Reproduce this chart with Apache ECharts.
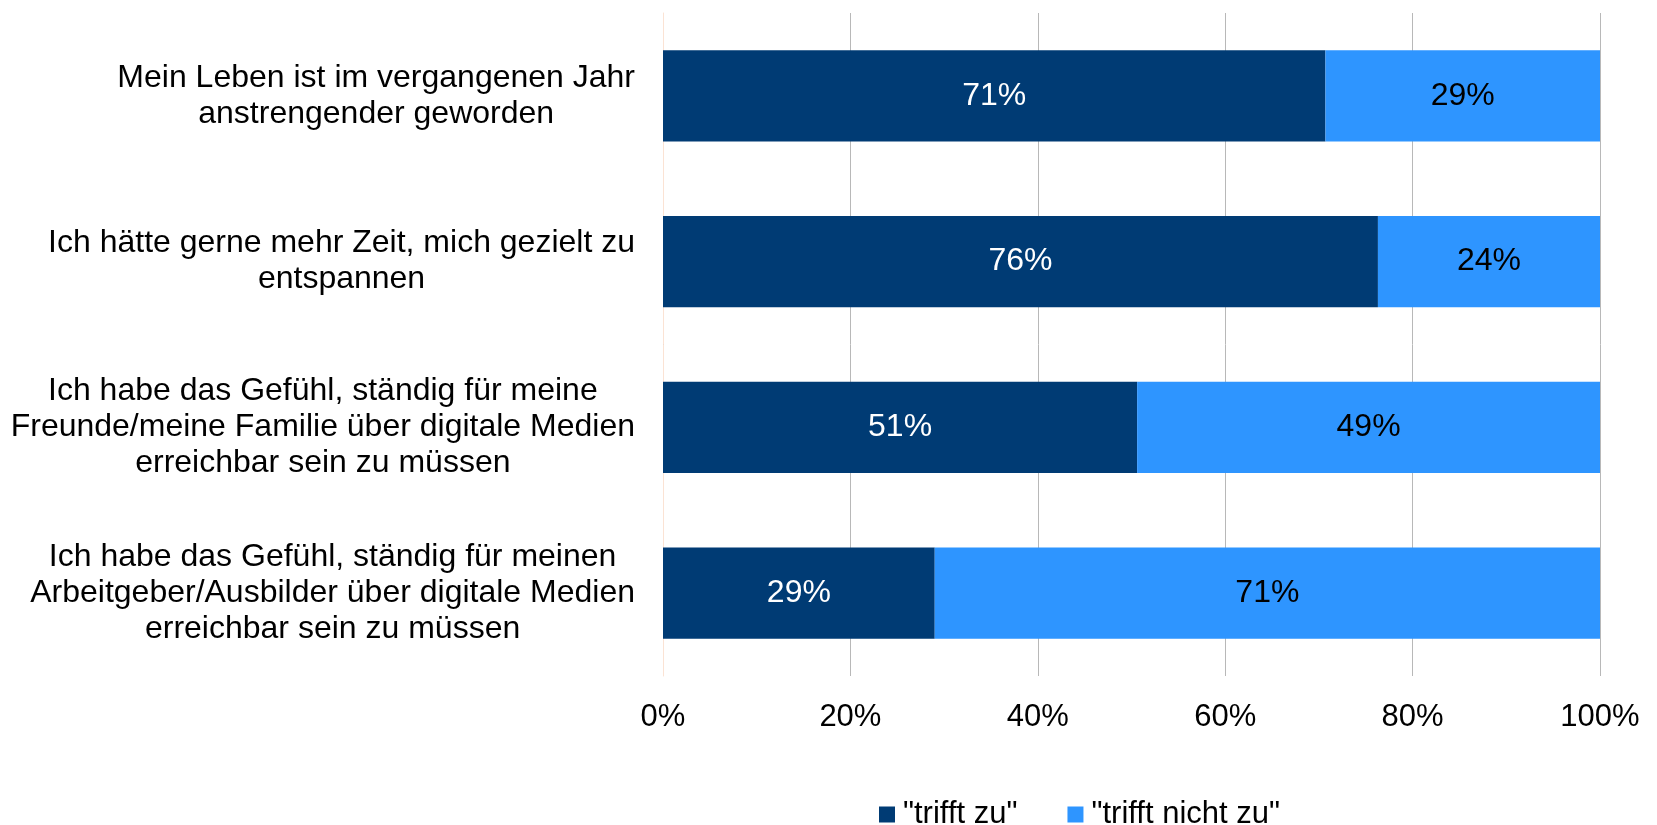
<!DOCTYPE html>
<html>
<head>
<meta charset="utf-8">
<script src="https://cdn.jsdelivr.net/npm/echarts@6/dist/echarts.min.js"></script>
<style>
  html, body { margin: 0; padding: 0; background: #fff; }
  #chart { width: 1657px; height: 825px; }
</style>
</head>
<body>
<div id="chart"></div>
<script>
var categories = [
  'Mein Leben ist im vergangenen Jahr\nanstrengender geworden',
  'Ich hätte gerne mehr Zeit, mich gezielt zu\nentspannen',
  'Ich habe das Gefühl, ständig für meine\nFreunde/meine Familie über digitale Medien\nerreichbar sein zu müssen',
  'Ich habe das Gefühl, ständig für meinen\nArbeitgeber/Ausbilder über digitale Medien\nerreichbar sein zu müssen'
];
var triftZu = [70.7, 76.3, 50.6, 29.0];
var triftNichtZu = [29.3, 23.7, 49.4, 71.0];
var seriesNames = ['"trifft zu"', '"trifft nicht zu"'];

var font = 'Liberation Sans, Arial, sans-serif';

var chart = echarts.init(document.getElementById('chart'));

var option = {
  animation: false,
  grid: { left: 663, right: 57, top: 13, bottom: 149 },
  legend: {
    left: 874,
    top: 794,
    itemWidth: 16,
    itemHeight: 16,
    itemGap: 50,
    icon: 'rect',
    textStyle: { fontFamily: font, fontSize: 31, color: '#000', padding: [0, 0, 0, 3] },
    data: seriesNames
  },
  xAxis: {
    type: 'value',
    min: 0,
    max: 100,
    interval: 20,
    axisLine: { show: false },
    axisTick: { show: false },
    splitLine: { lineStyle: { color: '#b8b8b8', width: 1 } },
    axisLabel: {
      formatter: '{value}%',
      fontFamily: font,
      fontSize: 31,
      color: '#000',
      margin: 26
    }
  },
  yAxis: {
    type: 'category',
    inverse: true,
    data: categories,
    axisLine: { show: true, lineStyle: { color: '#fbe3d4', width: 1 } },
    axisTick: { show: false },
    axisLabel: {
      margin: 28,
      align: 'right',
      formatter: function (v) {
        return v.split('\n').map(function (l) { return '{c|' + l + '}'; }).join('\n');
      },
      rich: {
        c: { align: 'center', fontFamily: font, fontSize: 32, color: '#000', lineHeight: 36 }
      }
    }
  },
  series: [
    {
      name: seriesNames[0],
      type: 'bar',
      stack: 'total',
      barCategoryGap: '45%',
      data: triftZu,
      itemStyle: { color: '#003b74' },
      label: {
        show: true,
        position: 'inside',
        color: '#fff',
        fontFamily: font,
        fontSize: 32,
        formatter: function (p) { return Math.round(p.value) + '%'; }
      }
    },
    {
      name: seriesNames[1],
      type: 'bar',
      stack: 'total',
      barCategoryGap: '45%',
      data: triftNichtZu,
      itemStyle: { color: '#2e95ff' },
      label: {
        show: true,
        position: 'inside',
        color: '#000',
        fontFamily: font,
        fontSize: 32,
        formatter: function (p) { return Math.round(p.value) + '%'; }
      }
    }
  ]
};

chart.setOption(option);
</script>
</body>
</html>
